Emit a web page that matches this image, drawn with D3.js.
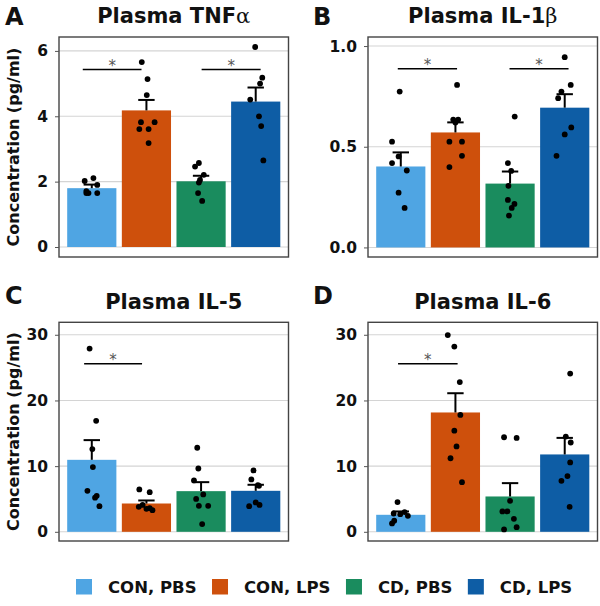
<!DOCTYPE html>
<html><head><meta charset="utf-8">
<script src="https://cdn.jsdelivr.net/npm/d3@7"></script>
<style>body{margin:0;background:#fff}svg{display:block}</style>
</head><body><svg id="c" width="600" height="606"></svg>
<script>
// ---------- data ----------
const groups = ["CON, PBS", "CON, LPS", "CD, PBS", "CD, LPS"];
const colors = ["#4FA5E3", "#CE500C", "#1A8C5E", "#0E5DA5"];
const panelLetters = ["A", "B", "C", "D"];
const titleMain = ["Plasma TNF", "Plasma IL-1", "Plasma IL-5", "Plasma IL-6"];
const titleGreek = ["α", "β", "", ""];
const yDomains = [[-0.306, 6.426], [-0.0475, 1.045], [-1.4, 31.9], [-1.4, 31.9]];
const yTicks = [[0, 2, 4, 6], [0, 0.5, 1.0], [0, 10, 20, 30], [0, 10, 20, 30]];
const yTickLabels = [["0", "2", "4", "6"], ["0.0", "0.5", "1.0"], ["0", "10", "20", "30"], ["0", "10", "20", "30"]];
const yTitle = "Concentration (pg/ml)";

const meansA = [1.80, 4.18, 2.01, 4.45];
const meansB = [0.402, 0.571, 0.317, 0.694];
const meansC = [10.96, 4.31, 6.19, 6.24];
const meansD = [2.59, 18.17, 5.38, 11.78];
const semA = [0.11, 0.32, 0.17, 0.43];
const semB = [0.070, 0.050, 0.060, 0.067];
const semC = [3.0, 0.46, 1.37, 0.92];
const semD = [0.51, 2.93, 2.03, 2.52];

// individual points: values and horizontal jitter (fraction of a category step)
const ptsA = [
  [[2.02,-0.13],[2.11,0.03],[1.90,0.10],[1.71,-0.10],[1.65,-0.10],[1.65,-0.06],[1.65,0.10]],
  [[5.66,-0.085],[5.14,0.02],[4.65,0.006],[3.82,-0.10],[3.82,0.15],[3.61,-0.13],[3.61,0.04],[3.18,0.04]],
  [[2.46,-0.11],[2.57,-0.04],[2.21,0.05],[1.97,-0.04],[2.05,-0.02],[1.65,-0.055],[1.41,0.02]],
  [[6.12,-0.01],[5.18,0.12],[5.0,0.08],[4.51,-0.10],[4.0,0.06],[3.70,0.10],[2.65,0.14]]
];
const ptsB = [
  [[0.774,-0.02],[0.525,-0.16],[0.452,-0.04],[0.419,-0.16],[0.382,0.11],[0.272,-0.04],[0.196,0.07]],
  [[0.807,0.03],[0.635,-0.04],[0.635,0.05],[0.62,0.0],[0.525,-0.11],[0.525,0.12],[0.455,0.12],[0.399,-0.11]],
  [[0.650,0.085],[0.419,-0.04],[0.380,0.02],[0.306,-0.03],[0.236,-0.04],[0.216,0.08],[0.196,0.03],[0.158,-0.02]],
  [[0.945,0.0],[0.807,0.11],[0.774,-0.06],[0.741,-0.12],[0.596,0.12],[0.561,0.0],[0.455,-0.15]]
];
const ptsC = [
  [[27.9,-0.04],[16.9,0.08],[12.6,0.01],[9.85,0.02],[6.24,-0.08],[5.48,0.09],[5.2,0.06],[3.9,0.14]],
  [[6.45,-0.13],[6.04,0.06],[3.8,-0.14],[4.1,-0.07],[3.6,0.06],[3.3,0.11],[3.5,0.0]],
  [[12.8,-0.07],[9.64,-0.05],[7.82,-0.13],[5.69,0.04],[5.0,-0.09],[3.96,-0.04],[3.96,0.13],[1.17,0.02]],
  [[9.34,-0.04],[7.97,-0.08],[7.1,0.04],[7.0,0.06],[4.47,0.0],[3.9,-0.12],[4.1,0.07]]
];
const ptsD = [
  [[4.52,-0.06],[2.79,-0.13],[2.69,-0.01],[3.0,0.07],[2.44,0.13],[1.68,-0.12],[1.27,-0.16]],
  [[29.95,-0.14],[28.2,-0.02],[22.8,0.08],[17.8,0.09],[15.4,-0.02],[13.0,0.02],[11.2,-0.09],[7.56,0.12]],
  [[14.4,-0.11],[14.3,0.12],[4.72,0.0],[3.1,-0.14],[3.1,-0.05],[1.98,0.07],[0.71,0.12],[0.36,-0.11]],
  [[24.1,0.10],[14.5,0.02],[13.6,0.11],[10.56,0.10],[8.48,0.05],[7.77,-0.06],[3.8,0.09]]
];
// significance brackets: [x1, x2 (1-based category position), y]
const sigA = [[0.835, 1.91, 5.43], [3.01, 4.09, 5.43]];
const sigB = [[0.945, 2.03, 0.887], [2.99, 4.07, 0.887]];
const sigC = [[0.86, 1.92, 25.6]];
const sigD = [[0.95, 2.04, 25.6]];

const panelsData = [
  {means: meansA, sem: semA, pts: ptsA, sig: sigA},
  {means: meansB, sem: semB, pts: ptsB, sig: sigB},
  {means: meansC, sem: semC, pts: ptsC, sig: sigC},
  {means: meansD, sem: semD, pts: ptsD, sig: sigD}
];

// ---------- layout ----------
const FONT = "'DejaVu Sans', sans-serif";
const boxes = [
  {x: 59, y: 37, w: 229.5, h: 220, letterX: 5, letterY: 24.5, titleY: 23, ytitle: true},
  {x: 368, y: 37, w: 229.5, h: 220, letterX: 313, letterY: 24.5, titleY: 23, ytitle: false},
  {x: 59, y: 322.3, w: 229.5, h: 218.7, letterX: 5, letterY: 304, titleY: 308.5, ytitle: true},
  {x: 368, y: 322.3, w: 229.5, h: 218.7, letterX: 313, letterY: 304, titleY: 308.5, ytitle: false}
];

const svg = d3.select("#c");
svg.append("rect").attr("width", 600).attr("height", 606).attr("fill", "#fff");

boxes.forEach((b, p) => {
  const d = panelsData[p];
  const g = svg.append("g").attr("transform", `translate(${b.x},${b.y})`);
  const x = d3.scaleBand().domain(groups).range([0, b.w]).paddingInner(0.1).paddingOuter(0.15);
  const xc = d3.scaleLinear().domain([0.4, 4.6]).range([0, b.w]);
  const y = d3.scaleLinear().domain(yDomains[p]).range([b.h, 0]);

  // grid
  g.selectAll(".grid").data(yTicks[p]).enter().append("line")
    .attr("x1", 0).attr("x2", b.w).attr("y1", v => y(v)).attr("y2", v => y(v))
    .attr("stroke", "#d4d4d4").attr("stroke-width", 1.1);

  // bars
  g.selectAll(".bar").data(d.means).enter().append("rect")
    .attr("x", (v, i) => x(groups[i])).attr("width", x.bandwidth())
    .attr("y", v => y(v)).attr("height", v => y(0) - y(v))
    .attr("fill", (v, i) => colors[i]);

  // error bars (upper)
  const capW = 0.15 * x.step();
  d.means.forEach((m, i) => {
    const cx = x(groups[i]) + x.bandwidth() / 2;
    g.append("line").attr("x1", cx).attr("x2", cx).attr("y1", y(m)).attr("y2", y(m + d.sem[i]))
      .attr("stroke", "#000").attr("stroke-width", 2);
    g.append("line").attr("x1", cx - capW).attr("x2", cx + capW)
      .attr("y1", y(m + d.sem[i])).attr("y2", y(m + d.sem[i]))
      .attr("stroke", "#000").attr("stroke-width", 2);
  });

  // points
  d.pts.forEach((arr, i) => {
    g.selectAll(null).data(arr).enter().append("circle")
      .attr("cx", q => xc(i + 1 + q[1])).attr("cy", q => y(q[0]))
      .attr("r", 2.9).attr("fill", "#000");
  });

  // significance
  d.sig.forEach(s => {
    g.append("line").attr("x1", xc(s[0])).attr("x2", xc(s[1])).attr("y1", y(s[2])).attr("y2", y(s[2]))
      .attr("stroke", "#000").attr("stroke-width", 1.6);
    g.append("text").attr("x", (xc(s[0]) + xc(s[1])) / 2).attr("y", y(s[2]) + 1)
      .attr("text-anchor", "middle").attr("font-family", FONT).attr("font-size", 15)
      .attr("fill", "#555").text("*");
  });

  // panel border
  g.append("rect").attr("x", 0).attr("y", 0).attr("width", b.w).attr("height", b.h)
    .attr("fill", "none").attr("stroke", "#444").attr("stroke-width", 1.4);

  // y axis
  const ax = g.append("g").call(d3.axisLeft(y).tickValues(yTicks[p])
      .tickFormat((v, k) => yTickLabels[p][k]).tickSize(4).tickPadding(7));
  ax.select(".domain").remove();
  ax.selectAll(".tick line").attr("stroke", "#555").attr("stroke-width", 1);
  ax.selectAll("text").attr("font-family", FONT).attr("font-weight", "bold")
    .attr("font-size", 15.5).attr("fill", "#111");

  // titles
  const t = svg.append("text").attr("x", b.x + b.w / 2).attr("y", b.titleY)
    .attr("text-anchor", "middle").attr("font-family", FONT).attr("font-weight", "bold")
    .attr("font-size", 21).attr("fill", "#111");
  t.append("tspan").text(titleMain[p]);
  if (titleGreek[p]) t.append("tspan").attr("font-family", "'DejaVu Serif', serif")
    .attr("font-weight", "normal").text(titleGreek[p]);

  svg.append("text").attr("x", b.letterX).attr("y", b.letterY)
    .attr("font-family", FONT).attr("font-weight", "bold").attr("font-size", 24)
    .attr("fill", "#111").text(panelLetters[p]);

  if (b.ytitle) {
    svg.append("text").attr("transform", `translate(18.5,${b.y + b.h / 2}) rotate(-90)`)
      .attr("text-anchor", "middle").attr("font-family", FONT).attr("font-weight", "bold")
      .attr("font-size", 16).attr("fill", "#111").text(yTitle);
  }
});

// legend
const leg = svg.append("g").attr("transform", "translate(76,579)");
let lx = 0;
groups.forEach((gname, i) => {
  leg.append("rect").attr("x", lx).attr("y", 0).attr("width", 16).attr("height", 15.5).attr("fill", colors[i]);
  const tx = leg.append("text").attr("x", lx + 32).attr("y", 14.3)
    .attr("font-family", FONT).attr("font-weight", "bold").attr("font-size", 16.5)
    .attr("fill", "#111").text(gname);
  lx += 32 + tx.node().getComputedTextLength() + 15.5;
});
</script></body></html>
